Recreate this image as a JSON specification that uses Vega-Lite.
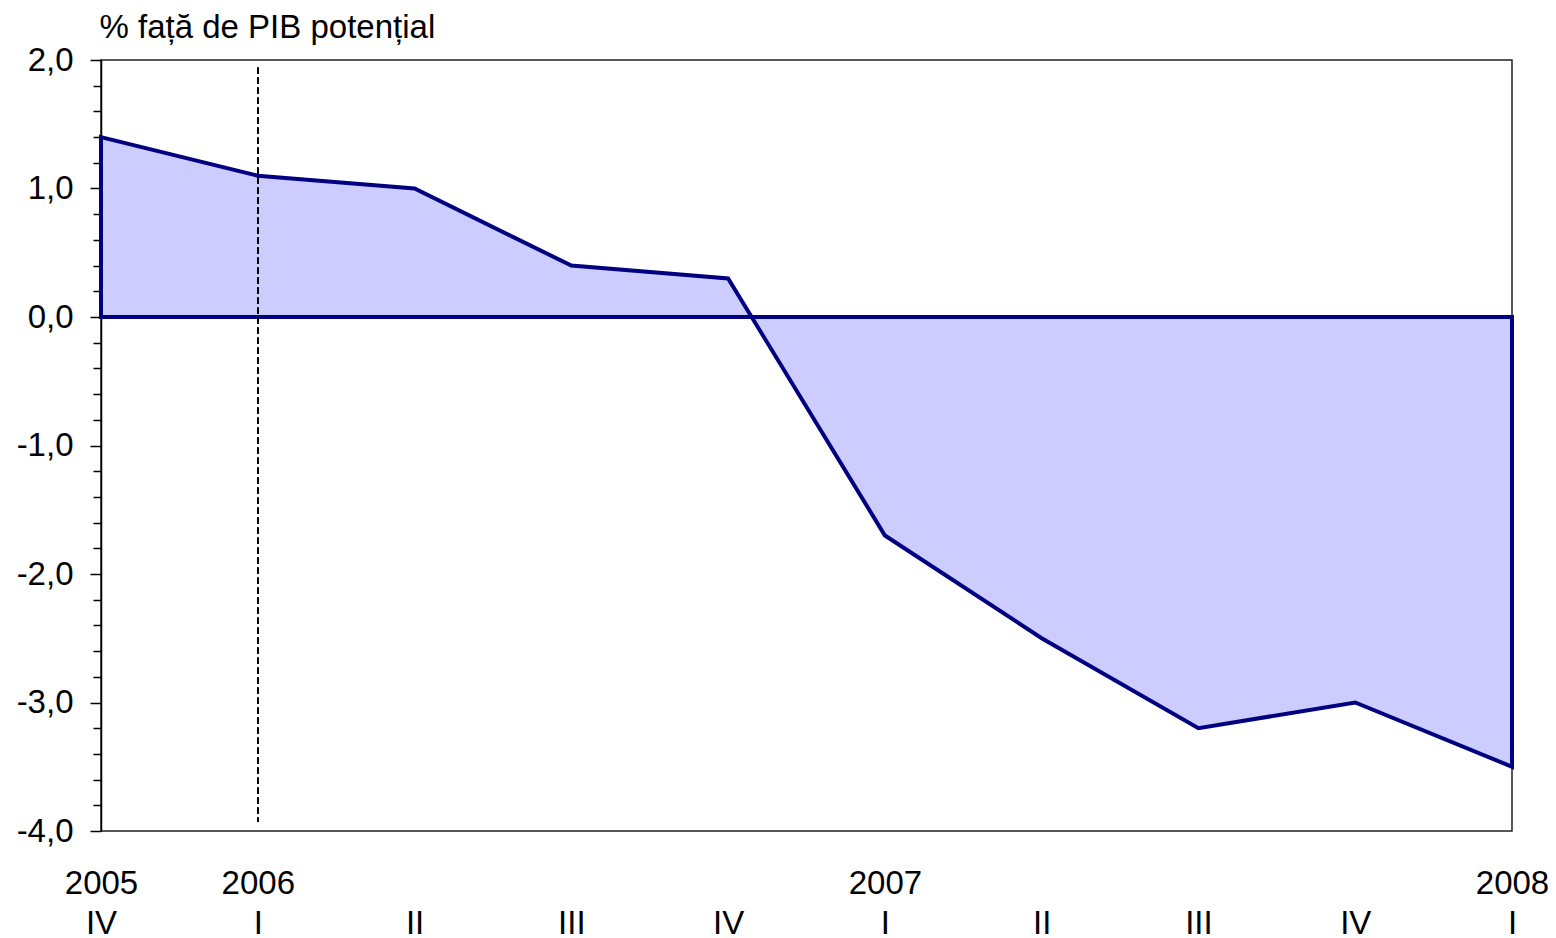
{
  "$schema": "https://vega.github.io/schema/vega-lite/v6.json",
  "autosize": "none",
  "width": 1411,
  "height": 771,
  "padding": {"left": 101, "top": 60, "right": 44, "bottom": 107},
  "background": "white",
  "config": {
    "font": "Liberation Sans",
    "view": {"stroke": "#222222", "strokeWidth": 1.5}
  },
  "data": {
    "values": [
      {"period": "2005-IV", "value": 1.4},
      {"period": "2006-I", "value": 1.1},
      {"period": "2006-II", "value": 1.0},
      {"period": "2006-III", "value": 0.4},
      {"period": "2006-IV", "value": 0.3},
      {"period": "2007-I", "value": -1.7},
      {"period": "2007-II", "value": -2.5},
      {"period": "2007-III", "value": -3.2},
      {"period": "2007-IV", "value": -3.0},
      {"period": "2008-I", "value": -3.5}
    ]
  },
  "encoding": {
    "x": {
      "field": "period",
      "type": "ordinal",
      "sort": null,
      "scale": {"type": "point", "padding": 0},
      "axis": {
        "title": null,
        "domain": false,
        "ticks": false,
        "tickSize": 0,
        "labelAngle": 0,
        "labelFont": "Liberation Sans",
        "labelFontSize": 33,
        "labelColor": "#000000",
        "labelBaseline": "top",
        "labelAlign": "center",
        "labelPadding": 36,
        "labelLineHeight": 40,
        "labelOverlap": false,
        "labelBound": false,
        "labelFlush": false,
        "labelExpr": "[indexof(['2005-IV','2006-I','2007-I','2008-I'], datum.value) >= 0 ? split(datum.value,'-')[0] : ' ', split(datum.value,'-')[1]]"
      }
    }
  },
  "layer": [
    {
      "mark": {
        "type": "area",
        "fill": "#CCCCFF",
        "stroke": "#000080",
        "strokeWidth": 4,
        "strokeJoin": "miter",
        "interpolate": "linear"
      },
      "encoding": {
        "y": {
          "field": "value",
          "type": "quantitative",
          "scale": {"domain": [-4, 2], "nice": false, "zero": false},
          "axis": {
            "title": "% față de PIB potențial",
            "titleAngle": 0,
            "titleAlign": "left",
            "titleBaseline": "alphabetic",
            "titleX": -2,
            "titleY": -23,
            "titleFont": "Liberation Sans",
            "titleFontSize": 33,
            "titleFontWeight": "normal",
            "titleColor": "#000000",
            "tickCount": 100,
            "values": [-4, -3.8, -3.6, -3.4, -3.2, -3, -2.8, -2.6, -2.4, -2.2, -2, -1.8, -1.6, -1.4, -1.2, -1, -0.8, -0.6, -0.4, -0.2, 0, 0.2, 0.4, 0.6, 0.8, 1, 1.2, 1.4, 1.6, 1.8, 2],
            "labelExpr": "abs(datum.value - round(datum.value)) < 0.001 ? (datum.value < -0.001 ? '-' : '') + toString(abs(round(datum.value))) + ',0' : ''",
            "labelFont": "Liberation Sans",
            "labelFontSize": 33,
            "labelColor": "#000000",
            "labelPadding": 17,
            "labelBaseline": "middle",
            "labelOverlap": false,
            "labelBound": false,
            "labelFlush": false,
            "grid": false,
            "domainColor": "#000000",
            "domainWidth": 1.5,
            "tickColor": "#000000",
            "tickWidth": 1.5,
            "tickSize": {"condition": {"test": "abs(datum.value - round(datum.value)) < 0.001", "value": 11}, "value": 8}
          }
        },
        "y2": {"datum": 0}
      }
    },
    {
      "mark": {
        "type": "rule",
        "stroke": "#000000",
        "strokeWidth": 1.5,
        "strokeDash": [6, 4]
      },
      "encoding": {
        "x": {"datum": "2006-I"},
        "y": {"datum": 1.94},
        "y2": {"datum": -3.93}
      }
    }
  ]
}
